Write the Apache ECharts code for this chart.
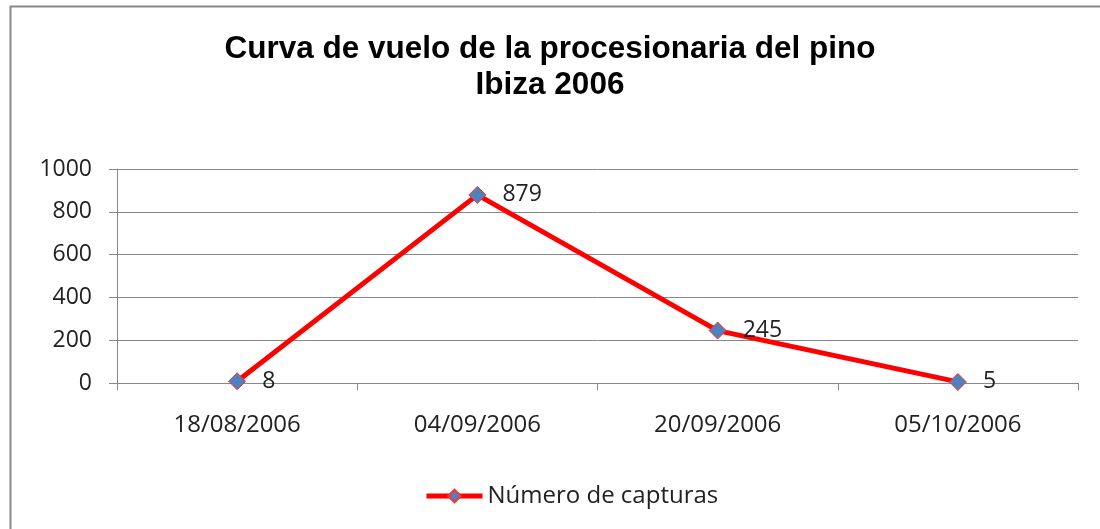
<!DOCTYPE html>
<html>
<head>
<meta charset="utf-8">
<script src="https://cdn.jsdelivr.net/npm/echarts@6/dist/echarts.min.js"></script>
<style>
  html, body { margin: 0; padding: 0; background: #fff; }
  #main { width: 1100px; height: 529px; }
</style>
</head>
<body>
<div id="main"></div>
<script>
var fechas = ['18/08/2006', '04/09/2006', '20/09/2006', '05/10/2006'];
var capturas = [8, 879, 245, 5];
var serieNombre = 'Número de capturas';
var titulo = 'Curva de vuelo de la procesionaria del pino\nIbiza 2006';

var myChart = echarts.init(document.getElementById('main'));
var fuente = '"Open Sans", "Noto Sans", sans-serif';

var option = {
    animation: false,
    backgroundColor: '#fff',
    graphic: [{
        type: 'rect',
        left: 8, top: 4,
        shape: { width: 1110, height: 560 },
        style: { fill: 'none', stroke: '#878787', lineWidth: 2 }
    }],
    title: {
        text: titulo,
        left: 'center',
        top: 26,
        textStyle: {
            fontFamily: '"Liberation Sans", Arial, sans-serif',
            fontSize: 31.5,
            fontWeight: 'bold',
            color: '#000',
            lineHeight: 36
        }
    },
    legend: {
        data: [serieNombre],
        left: 419,
        top: 479,
        itemWidth: 56,
        itemHeight: 16,
        itemGap: 4,
        lineStyle: { width: 5, color: '#ff0000' },
        textStyle: { fontFamily: fuente, fontSize: 24, color: '#222' }
    },
    grid: {
        left: 117,
        right: 22,
        top: 169,
        bottom: 146
    },
    xAxis: {
        type: 'category',
        data: fechas,
        boundaryGap: true,
        axisLine: { lineStyle: { color: '#888', width: 1 } },
        axisTick: { show: true, length: 7, lineStyle: { color: '#888' } },
        axisLabel: { fontFamily: fuente, fontSize: 24, color: '#222', margin: 30 }
    },
    yAxis: {
        type: 'value',
        min: 0,
        max: 1000,
        interval: 200,
        axisLine: { show: true, lineStyle: { color: '#888', width: 1 } },
        axisTick: { show: true, length: 8, lineStyle: { color: '#888' } },
        splitLine: { show: true, lineStyle: { color: '#888', width: 1 } },
        axisLabel: {
            fontFamily: fuente, fontSize: 23, color: '#222', margin: 25,
            formatter: function (v) { return String(v); }
        }
    },
    series: [{
        name: serieNombre,
        type: 'line',
        data: capturas,
        symbol: 'diamond',
        symbolSize: 17,
        lineStyle: { color: '#ff0000', width: 5 },
        itemStyle: { color: '#4f81bd', borderColor: '#ff3030', borderWidth: 1 },
        label: {
            show: true,
            position: 'right',
            distance: 16,
            fontFamily: fuente,
            fontSize: 23,
            color: '#222'
        }
    }]
};

myChart.setOption(option);
</script>
</body>
</html>
